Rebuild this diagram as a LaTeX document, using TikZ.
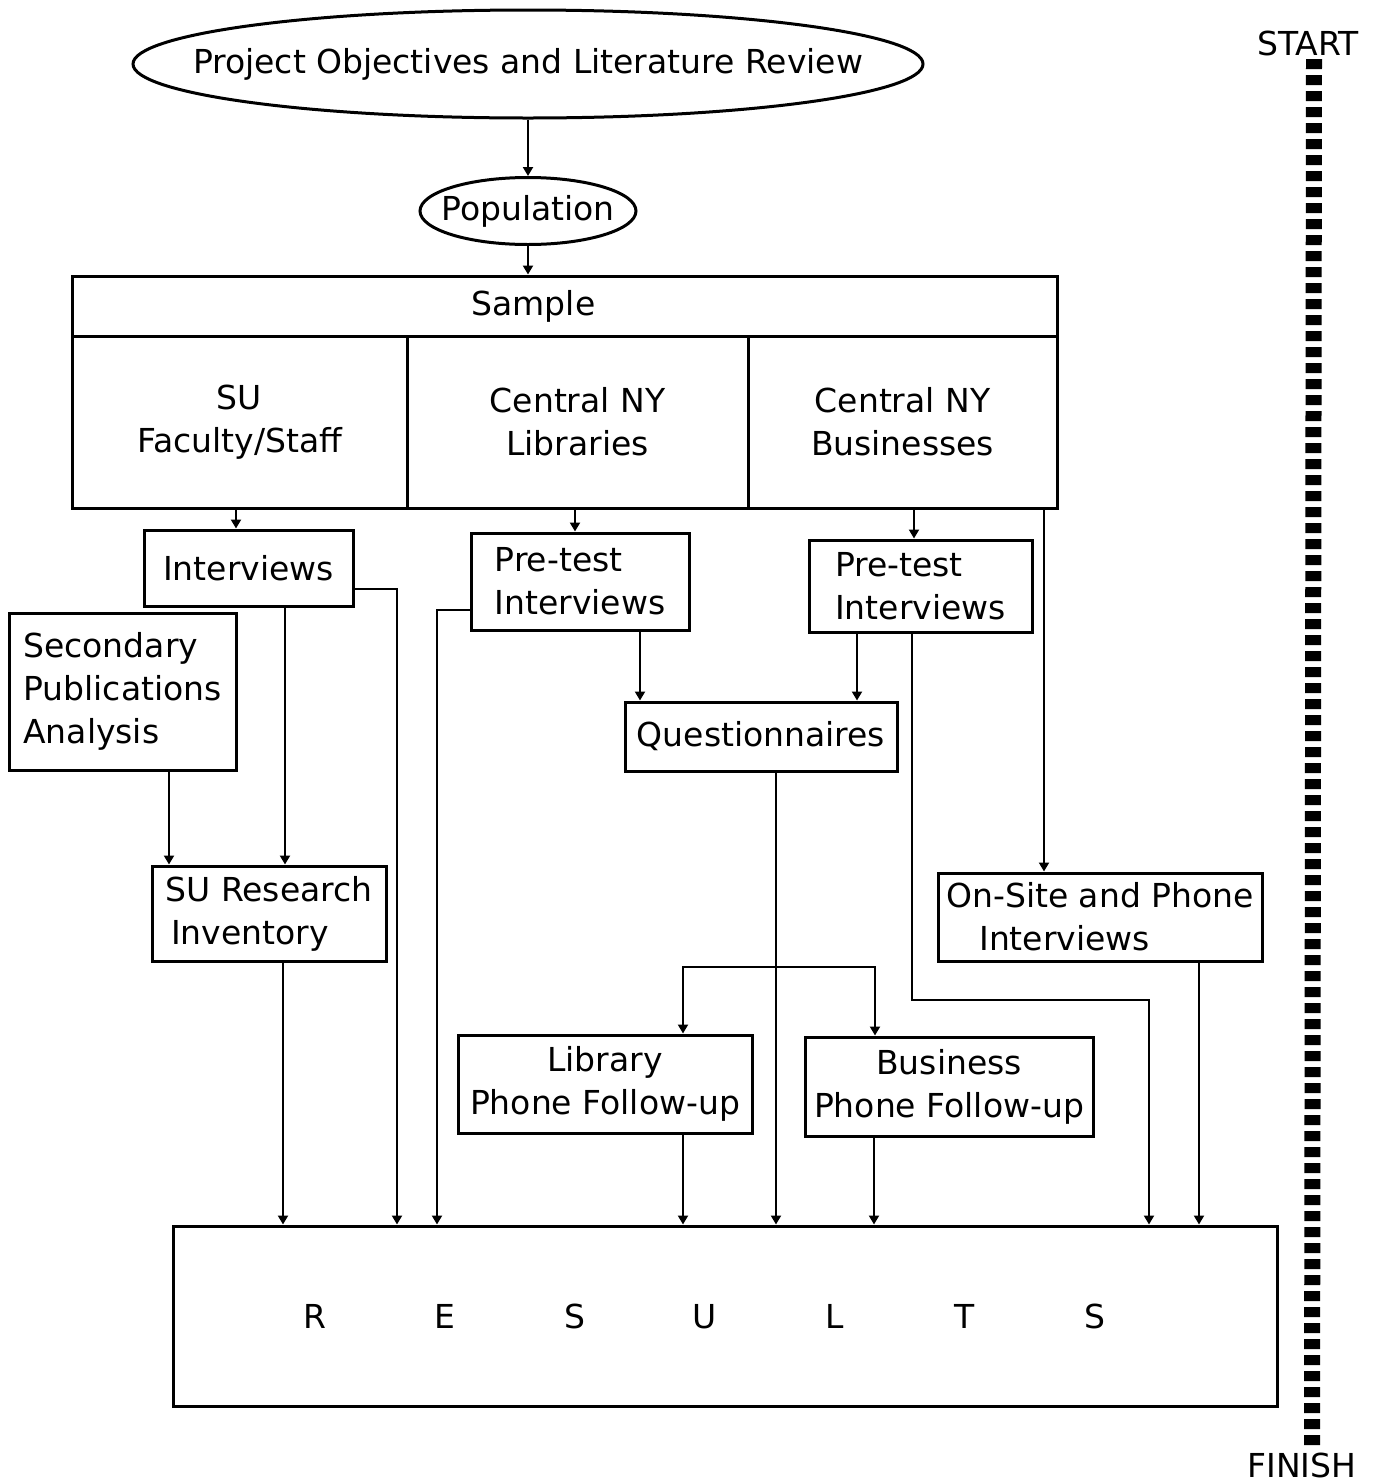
\documentclass[tikz,border=0pt]{standalone}
\usepackage{fontspec}
\setmainfont{DejaVu Sans}
\usetikzlibrary{shapes.geometric,arrows.meta}

\begin{document}
\begin{tikzpicture}[x=1pt,y=-1pt,>={Triangle[length=9pt,width=10pt]},
   every node/.style={font=\fontsize{33}{43}\selectfont},
   oval/.style 2 args={draw,ellipse,line width=3pt,inner sep=0pt,minimum width=#1pt,minimum height=#2pt},
   box/.style 2 args={draw,rectangle,line width=3pt,inner sep=4pt,minimum width=#1pt,minimum height=#2pt},
   link/.style={->,line width=2pt},
   bar/.style={line width=16pt,dash pattern=on 10pt off 6pt}]
   \useasboundingbox (0,0) rectangle (1379,1484);
   % top of the plan
   \node[oval={790}{108}] (obj) at (528,64) {\makebox[0pt]{Project Objectives and Literature Review}};
   \node[oval={216}{67}] (pop) at (528,211) {\makebox[0pt]{Population}};
   \node[box={985}{60},label={[xshift=-31pt]center:Sample}] (head) at (564.5,306) {};
   \node[box={335}{172},align=center] (fac) at (239.5,422) {SU\\Faculty/Staff};
   \node[box={341}{172},align=center] (lib) at (577.5,422) {Central NY\\Libraries};
   \node[box={309}{172},align=center] (bus) at (902.5,422) {Central NY\\Businesses};
   % methods
   \node[box={209}{76}] (intv) at (248.5,568) {Interviews};
   \node[box={227}{157},align=left] (sec) at (122.5,691.5) {Secondary\\Publications\\Analysis};
   \node[box={234}{95},align=left] (sur) at (269,913.5) {SU Research\\\,Inventory};
   \node[box={218}{97},align=left] (plib) at (580,581.5) {Pre-test\\Interviews};
   \node[box={223}{92},align=left] (pbus) at (920.5,586) {Pre-test\\Interviews};
   \node[box={272}{69}] (quest) at (761,736.5) {Questionnaires};
   \node[box={324}{88},align=left] (onsite) at (1100,917) {On-Site and Phone\\\hspace{1em}Interviews};
   \node[box={294}{98},align=center] (flib) at (605,1084) {Library\\Phone Follow-up};
   \node[box={288}{99},align=center] (fbus) at (949,1086.5) {Business\\Phone Follow-up};
   \node[box={1104}{180}] (res) at (725,1316)
      {\hspace{-40pt}\makebox[130pt]{R}\makebox[130pt]{E}\makebox[130pt]{S}\makebox[130pt]{U}\makebox[130pt]{L}\makebox[130pt]{T}\makebox[130pt]{S}};
   % time line
   \node (st) at (1308,43) {START};
   \node (fin) at (1302,1465) {FINISH};
   \draw[bar] (st.south -| 1314,0) -- (fin.north -| 1312,0);
   % connectors
   \draw[link] (obj) -- (pop);
   \draw[link] (pop) -- (head.north -| pop.south);
   \draw[link] (fac.south -| 236,0) -- (intv.north -| 236,0);
   \draw[link] (lib.south -| 575,0) -- (plib.north -| 575,0);
   \draw[link] (bus.south -| 914,0) -- (pbus.north -| 914,0);
   \draw[link] (bus.south -| 1044,0) -- (onsite.north -| 1044,0);
   \draw[link] (intv.east |- 0,589) -| (res.north -| 397,0);
   \draw[link] (intv.south -| 285,0) -- (sur.north -| 285,0);
   \draw[link] (sec.south -| 169,0) -- (sur.north -| 169,0);
   \draw[link] (sur.south -| 283,0) -- (res.north -| 283,0);
   \draw[link] (plib.west |- 0,610) -| (res.north -| 437,0);
   \draw[link] (plib.south -| 640,0) -- (quest.north -| 640,0);
   \draw[link] (pbus.south -| 857,0) -- (quest.north -| 857,0);
   \draw[link] (pbus.south -| 912,0) |- (1149,1000) -- (res.north -| 1149,0);
   \draw[link] (quest.south -| 776,0) -- (res.north -| 776,0);
   \coordinate (br) at (776,967);
   \draw[link] (br) -| (flib.north -| 683,0);
   \draw[link] (br) -| (fbus.north -| 875,0);
   \draw[link] (flib.south -| 683,0) -- (res.north -| 683,0);
   \draw[link] (fbus.south -| 874,0) -- (res.north -| 874,0);
   \draw[link] (onsite.south -| 1199,0) -- (res.north -| 1199,0);
\end{tikzpicture}
\end{document}
